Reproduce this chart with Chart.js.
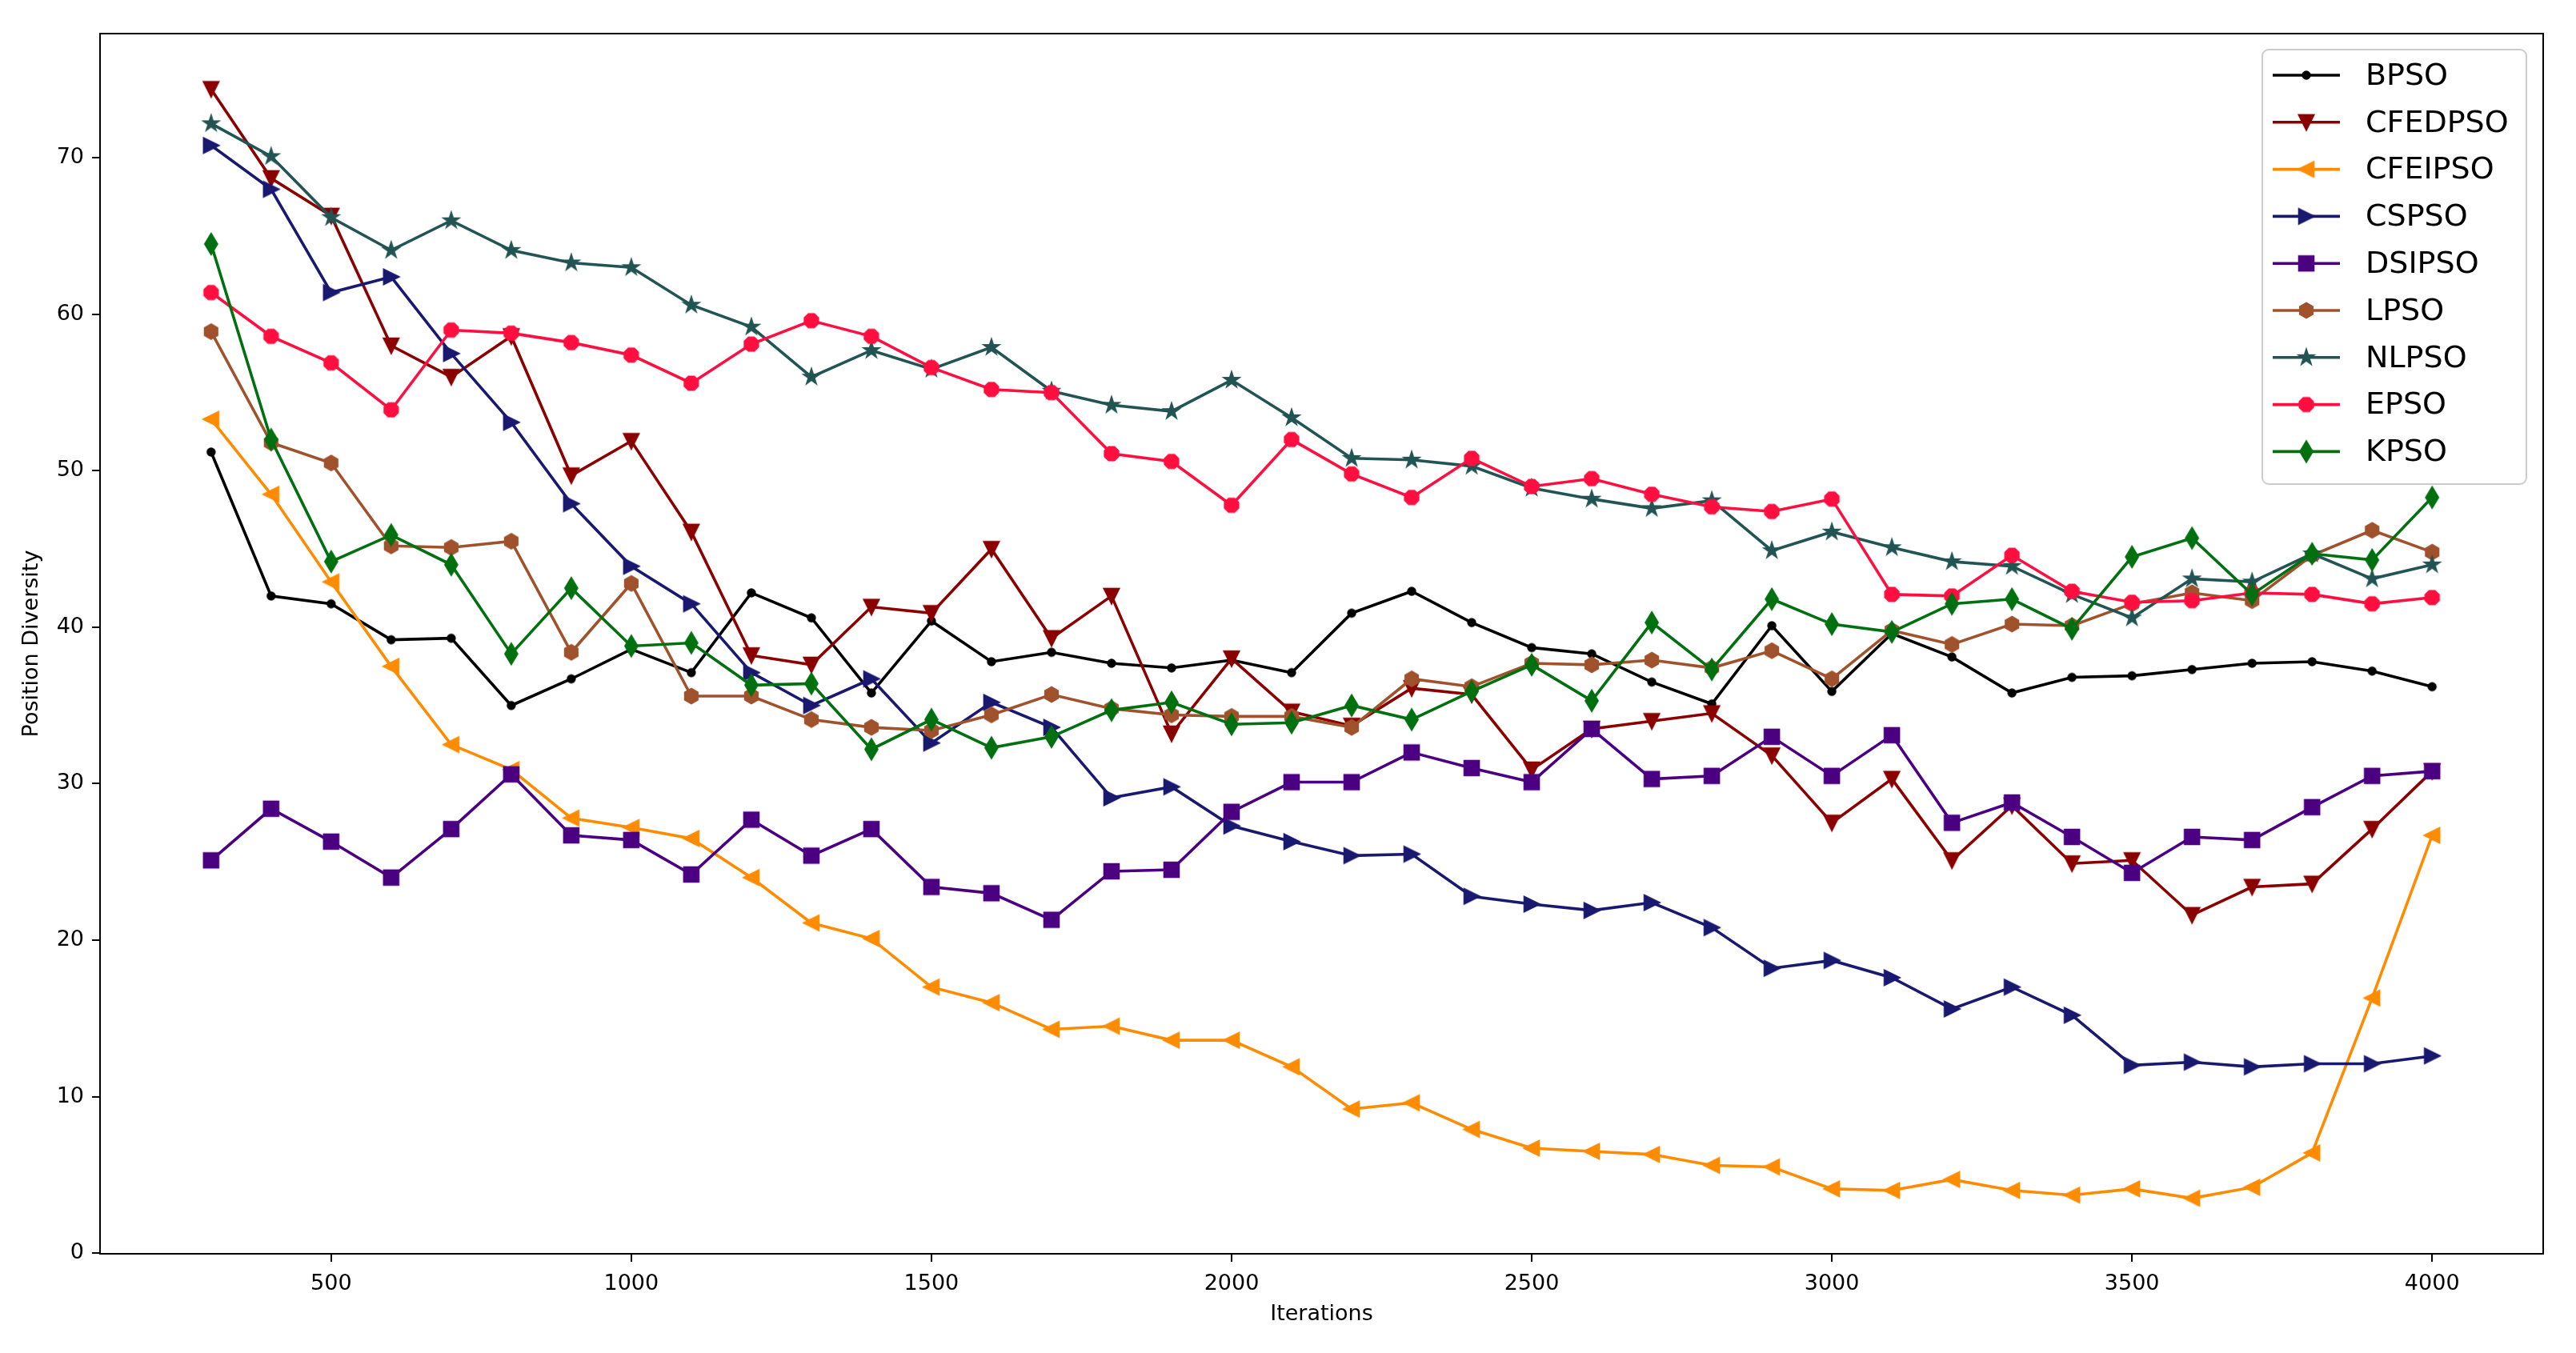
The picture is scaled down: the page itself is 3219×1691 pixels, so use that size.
<!DOCTYPE html>
<html>
<head>
<meta charset="utf-8">
<script src="https://cdn.jsdelivr.net/npm/chart.js@4.4.0/dist/chart.umd.min.js"></script>
<style>
  html, body { margin: 0; padding: 0; background: #fff; }
</style>
</head>
<body>
<canvas id="diversityChart" width="3219" height="1691"></canvas>
<script>
// Data
const iterations = [300, 400, 500, 600, 700, 800, 900, 1000, 1100, 1200, 1300, 1400, 1500, 1600, 1700, 1800, 1900, 2000, 2100,
  2200, 2300, 2400, 2500, 2600, 2700, 2800, 2900, 3000, 3100, 3200, 3300, 3400, 3500, 3600, 3700, 3800, 3900, 4000];

const bpso = [51.2, 42.0, 41.5, 39.2, 39.3, 35.0, 36.7, 38.6, 37.1, 42.2, 40.6, 35.8, 40.4, 37.8, 38.4, 37.7, 37.4, 37.9, 37.1,
  40.9, 42.3, 40.3, 38.7, 38.3, 36.5, 35.1, 40.1, 35.9, 39.6, 38.1, 35.8, 36.8, 36.9, 37.3, 37.7, 37.8, 37.2, 36.2];
const cfedpso = [74.4, 68.7, 66.3, 58.0, 56.0, 58.6, 49.7, 51.9, 46.1, 38.2, 37.6, 41.3, 40.9, 45.0, 39.3, 42.0, 33.2, 38.0, 34.6,
  33.7, 36.1, 35.7, 30.9, 33.5, 34.0, 34.5, 31.8, 27.5, 30.3, 25.1, 28.6, 24.9, 25.1, 21.6, 23.4, 23.6, 27.1, 30.8];
const cfeipso = [53.3, 48.5, 42.9, 37.5, 32.5, 30.9, 27.8, 27.2, 26.5, 24.0, 21.1, 20.1, 17.0, 16.0, 14.3, 14.5, 13.6, 13.6, 11.9,
  9.2, 9.6, 7.9, 6.7, 6.5, 6.3, 5.6, 5.5, 4.1, 4.0, 4.7, 4.0, 3.7, 4.1, 3.5, 4.2, 6.4, 16.3, 26.7];
const cspso = [70.8, 68.0, 61.4, 62.4, 57.5, 53.1, 47.9, 43.9, 41.5, 37.1, 35.0, 36.7, 32.6, 35.2, 33.6, 29.1, 29.8, 27.3, 26.3,
  25.4, 25.5, 22.8, 22.3, 21.9, 22.4, 20.8, 18.2, 18.7, 17.6, 15.6, 17.0, 15.2, 12.0, 12.2, 11.9, 12.1, 12.1, 12.6];
const dsipso = [25.1, 28.4, 26.3, 24.0, 27.1, 30.6, 26.7, 26.4, 24.2, 27.7, 25.4, 27.1, 23.4, 23.0, 21.3, 24.4, 24.5, 28.2, 30.1,
  30.1, 32.0, 31.0, 30.1, 33.5, 30.3, 30.5, 33.0, 30.5, 33.1, 27.5, 28.8, 26.6, 24.3, 26.6, 26.4, 28.5, 30.5, 30.8];
const lpso = [58.9, 51.8, 50.5, 45.2, 45.1, 45.5, 38.4, 42.8, 35.6, 35.6, 34.1, 33.6, 33.4, 34.4, 35.7, 34.8, 34.4, 34.3, 34.3,
  33.6, 36.7, 36.2, 37.7, 37.6, 37.9, 37.4, 38.5, 36.7, 39.8, 38.9, 40.2, 40.1, 41.5, 42.2, 41.7, 44.6, 46.2, 44.8];
const nlpso = [72.2, 70.1, 66.2, 64.1, 66.0, 64.1, 63.3, 63.0, 60.6, 59.2, 56.0, 57.7, 56.5, 57.9, 55.1, 54.2, 53.8, 55.8, 53.4,
  50.8, 50.7, 50.3, 48.9, 48.2, 47.6, 48.1, 44.9, 46.1, 45.1, 44.2, 43.9, 42.1, 40.6, 43.1, 42.9, 44.7, 43.1, 44.0];
const epso = [61.4, 58.6, 56.9, 53.9, 59.0, 58.8, 58.2, 57.4, 55.6, 58.1, 59.6, 58.6, 56.6, 55.2, 55.0, 51.1, 50.6, 47.8, 52.0,
  49.8, 48.3, 50.8, 49.0, 49.5, 48.5, 47.7, 47.4, 48.2, 42.1, 42.0, 44.6, 42.3, 41.6, 41.7, 42.2, 42.1, 41.5, 41.9];
const kpso = [64.5, 52.0, 44.2, 45.9, 44.0, 38.3, 42.5, 38.8, 39.0, 36.3, 36.4, 32.2, 34.1, 32.3, 33.0, 34.7, 35.2, 33.8, 33.9,
  35.0, 34.1, 35.9, 37.6, 35.3, 40.3, 37.3, 41.8, 40.2, 39.7, 41.5, 41.8, 39.9, 44.5, 45.7, 42.1, 44.7, 44.3, 48.3];

const xTicks = [500, 1000, 1500, 2000, 2500, 3000, 3500, 4000];
const yTicks = [0, 10, 20, 30, 40, 50, 60, 70];

const seriesNames = ["BPSO", "CFEDPSO", "CFEIPSO", "CSPSO", "DSIPSO", "LPSO", "NLPSO", "EPSO", "KPSO"];
const seriesValues = [bpso, cfedpso, cfeipso, cspso, dsipso, lpso, nlpso, epso, kpso];
const seriesColors = ["#000000", "#8B0000", "#FF8C00", "#191970", "#4B0082", "#A0522D", "#235454", "#FF0F40", "#007010"];
const seriesMarkers = ["point", "tri_down", "tri_left", "tri_right", "square", "hexagon", "star", "octagon", "thin_diamond"];

const FONT = "'DejaVu Sans', sans-serif";

// small canvases used as matplotlib-like markers
function makeMarker(shape, color) {
  const c = document.createElement("canvas");
  c.width = 36;
  c.height = 36;
  const g = c.getContext("2d");
  g.translate(18, 18);
  g.fillStyle = color;
  g.strokeStyle = color;
  g.lineWidth = 2.6;
  g.lineJoin = "miter";
  const r = 9;
  const poly = (pts) => {
    g.moveTo(pts[0][0], pts[0][1]);
    for (let i = 1; i < pts.length; i++) g.lineTo(pts[i][0], pts[i][1]);
  };
  const regular = (n, rad, startDeg) => {
    const pts = [];
    for (let k = 0; k < n; k++) {
      const a = (startDeg + (k * 360) / n) * Math.PI / 180;
      pts.push([rad * Math.cos(a), rad * Math.sin(a)]);
    }
    return pts;
  };
  g.beginPath();
  switch (shape) {
    case "point": g.arc(0, 0, 4.4, 0, Math.PI * 2); break;
    case "tri_down": poly([[0, r], [-r, -r], [r, -r]]); break;
    case "tri_left": poly([[-r, 0], [r, -r], [r, r]]); break;
    case "tri_right": poly([[r, 0], [-r, -r], [-r, r]]); break;
    case "square": poly([[-r, -r], [r, -r], [r, r], [-r, r]]); break;
    case "hexagon": poly(regular(6, r, -90)); break;
    case "octagon": poly(regular(8, r, 22.5)); break;
    case "star": {
      const pts = [];
      for (let k = 0; k < 10; k++) {
        const rad = k % 2 === 0 ? r : r * 0.382;
        const a = (-90 + k * 36) * Math.PI / 180;
        pts.push([rad * Math.cos(a), rad * Math.sin(a)]);
      }
      poly(pts);
      break;
    }
    case "thin_diamond": poly([[0, -12.5], [7.5, 0], [0, 12.5], [-7.5, 0]]); break;
  }
  g.closePath();
  g.fill();
  g.stroke();
  return c;
}

const markerImages = seriesMarkers.map((m, i) => makeMarker(m, seriesColors[i]));

const datasets = seriesNames.map((name, i) => ({
  label: name,
  data: iterations.map((x, j) => ({ x: x, y: seriesValues[i][j] })),
  borderColor: seriesColors[i],
  backgroundColor: seriesColors[i],
  borderWidth: 3.6,
  tension: 0,
  fill: false,
  pointStyle: markerImages[i],
  pointRadius: 8,
  order: -i,
}));

// full box around the axes
const framePlugin = {
  id: "frame",
  afterDatasetsDraw(chart) {
    const a = chart.chartArea;
    const ctx = chart.ctx;
    ctx.save();
    ctx.strokeStyle = "#000";
    ctx.lineWidth = 2;
    ctx.strokeRect(a.left, a.top, a.right - a.left, a.bottom - a.top);
    ctx.restore();
  },
};

// legend in the upper right corner, like matplotlib
const legendPlugin = {
  id: "innerLegend",
  afterDraw(chart) {
    const a = chart.chartArea;
    const ctx = chart.ctx;
    const w = 330, h = 543;
    const x0 = a.right - 21 - w, y0 = a.top + 20;
    ctx.save();
    ctx.beginPath();
    ctx.roundRect(x0, y0, w, h, 8);
    ctx.fillStyle = "rgba(255,255,255,0.8)";
    ctx.fill();
    ctx.strokeStyle = "#cccccc";
    ctx.lineWidth = 2;
    ctx.stroke();
    ctx.font = "38px " + FONT;
    ctx.textBaseline = "middle";
    ctx.textAlign = "left";
    seriesNames.forEach((name, i) => {
      const y = y0 + 32 + i * 58.8;
      ctx.beginPath();
      ctx.strokeStyle = seriesColors[i];
      ctx.lineWidth = 3.6;
      ctx.moveTo(x0 + 13, y);
      ctx.lineTo(x0 + 97, y);
      ctx.stroke();
      const img = markerImages[i];
      ctx.drawImage(img, x0 + 55 - img.width / 2, y - img.height / 2);
      ctx.fillStyle = "#000";
      ctx.fillText(name, x0 + 129, y + 2);
    });
    ctx.restore();
  },
};

const ctx = document.getElementById("diversityChart").getContext("2d");

new Chart(ctx, {
  type: "line",
  data: { datasets: datasets },
  plugins: [framePlugin, legendPlugin],
  options: {
    responsive: false,
    animation: false,
    devicePixelRatio: 1,
    layout: { padding: { left: 0, top: 42, right: 41, bottom: 0 } },
    plugins: {
      legend: { display: false },
      tooltip: { enabled: false },
    },
    scales: {
      x: {
        type: "linear",
        min: 115,
        max: 4185,
        afterBuildTicks: (s) => { s.ticks = xTicks.map((v) => ({ value: v })); },
        afterFit: (s) => { s.height = 124; },
        grid: { drawOnChartArea: false, drawTicks: true, tickLength: 10, color: "#000", lineWidth: 2 },
        border: { display: true, color: "#000", width: 2 },
        ticks: {
          color: "#000",
          font: { family: FONT, size: 27 },
          padding: 12,
          maxRotation: 0,
          autoSkip: false,
          callback: (v) => String(v),
        },
        title: {
          display: true,
          text: "Iterations",
          color: "#000",
          font: { family: FONT, size: 27 },
          padding: { top: 0, bottom: 32 },
        },
      },
      y: {
        type: "linear",
        min: -0.05,
        max: 77.95,
        afterBuildTicks: (s) => { s.ticks = yTicks.map((v) => ({ value: v })); },
        afterFit: (s) => { s.width = 125; },
        grid: { drawOnChartArea: false, drawTicks: true, tickLength: 10, color: "#000", lineWidth: 2 },
        border: { display: true, color: "#000", width: 2 },
        ticks: {
          color: "#000",
          font: { family: FONT, size: 27 },
          padding: 10,
          autoSkip: false,
          callback: (v) => String(v),
        },
        title: {
          display: true,
          text: "Position Diversity",
          color: "#000",
          font: { family: FONT, size: 27 },
          padding: { top: 24, bottom: 0 },
        },
      },
    },
  },
});
</script>
</body>
</html>
